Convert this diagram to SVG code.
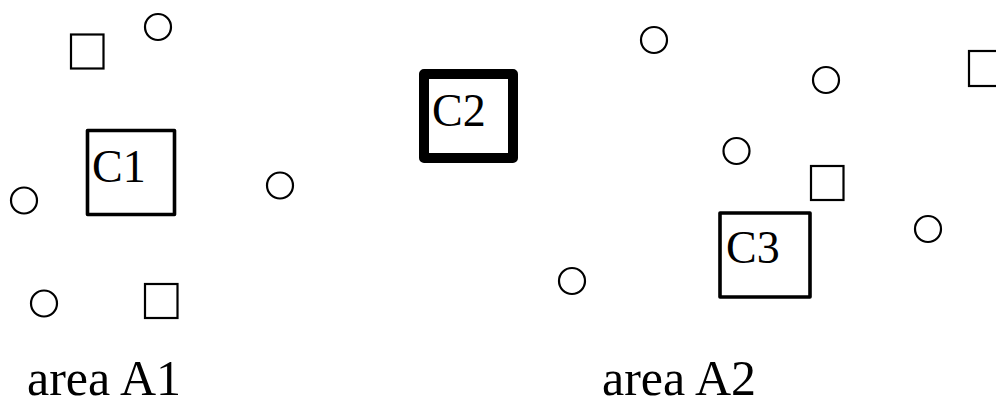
<svg xmlns="http://www.w3.org/2000/svg" width="996" height="398" viewBox="0 0 996 398">
<style>
.c{fill:none;stroke:#000;stroke-width:2.2}
.s{fill:none;stroke:#000;stroke-width:2.2}
.b{fill:none;stroke:#000;stroke-width:3.6;stroke-linejoin:round}
.bb{fill:none;stroke:#000;stroke-width:10;stroke-linejoin:round}
text{font-family:"Liberation Serif","Times New Roman",serif;fill:#000}
.t{font-size:46px}
.l{font-size:50px}
</style>
<rect width="996" height="398" fill="#fff"/>
<g id="connectors"></g>
<g id="C1"><rect class="b" x="87.5" y="130.5" width="87" height="84"/><text class="t" x="92" y="182">C1</text></g>
<g id="C2"><rect class="bb" x="424" y="74" width="89" height="84"/><text class="t" x="432" y="126">C2</text></g>
<g id="C3"><rect class="b" x="720" y="213" width="90" height="84"/><text class="t" x="726" y="263">C3</text></g>
<g id="sq1"><rect class="s" x="71" y="34.5" width="32.5" height="34"/></g>
<g id="sq2"><rect class="s" x="145" y="284" width="32.5" height="34"/></g>
<g id="sq3"><rect class="s" x="811" y="166" width="32.5" height="34"/></g>
<g id="sq4"><rect class="s" x="969" y="51" width="33" height="35"/></g>
<g id="o1"><circle class="c" cx="158" cy="27" r="13"/></g>
<g id="o2"><circle class="c" cx="24" cy="200.5" r="13"/></g>
<g id="o3"><circle class="c" cx="280" cy="185.5" r="13"/></g>
<g id="o4"><circle class="c" cx="44" cy="303.5" r="13"/></g>
<g id="o5"><circle class="c" cx="654" cy="40" r="13"/></g>
<g id="o6"><circle class="c" cx="826" cy="80" r="13"/></g>
<g id="o7"><circle class="c" cx="736.5" cy="151" r="13"/></g>
<g id="o8"><circle class="c" cx="928" cy="229" r="13"/></g>
<g id="o9"><circle class="c" cx="572" cy="281" r="13"/></g>
<g id="A1"><text class="l" x="27" y="395">area A1</text></g>
<g id="A2"><text class="l" x="602" y="395">area A2</text></g>
</svg>
